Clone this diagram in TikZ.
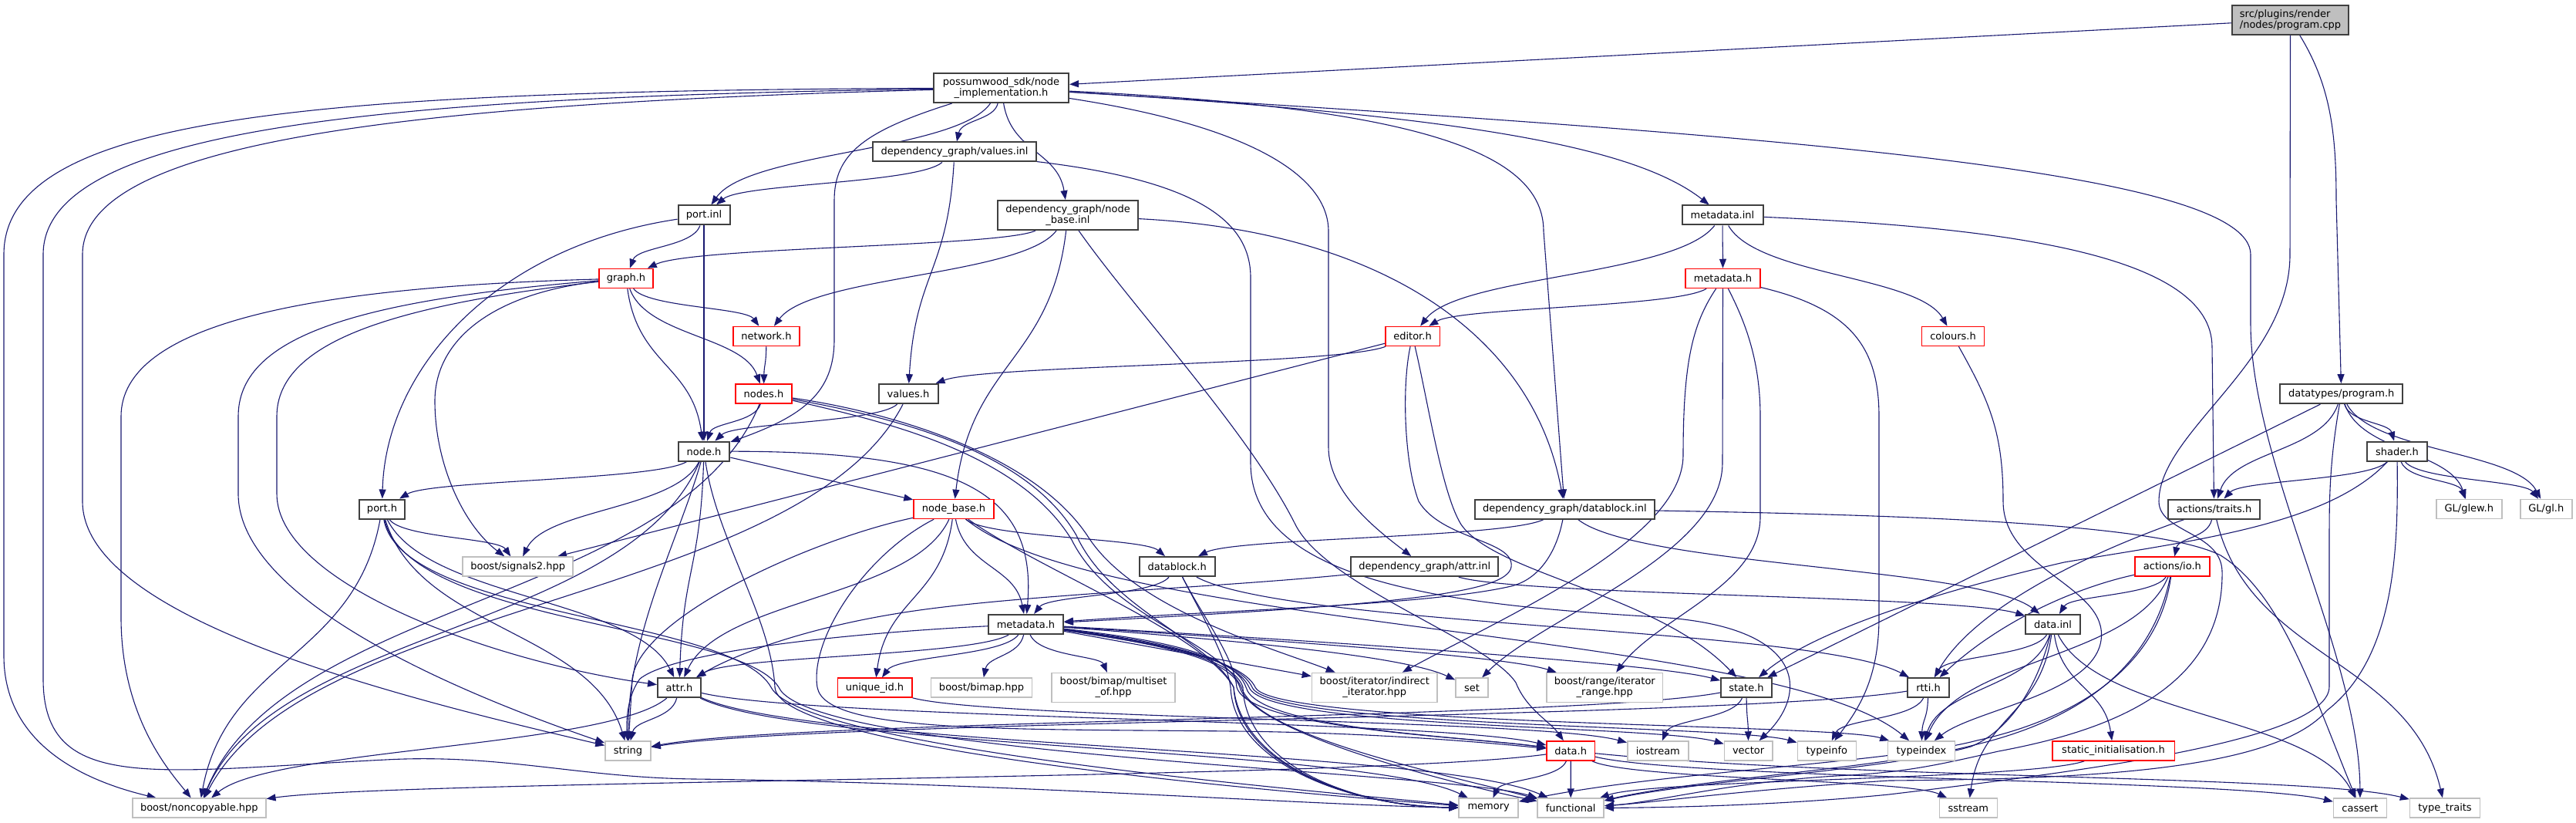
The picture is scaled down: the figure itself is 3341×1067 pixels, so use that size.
\documentclass[tikz,border=0pt]{standalone}
\usepackage{fontspec}
\setmainfont{DejaVu Sans}
\usetikzlibrary{arrows.meta,calc}
\definecolor{edgeblue}{RGB}{25,25,112}
\definecolor{extgray}{RGB}{191,191,191}
\definecolor{docline}{RGB}{64,64,64}
\newcommand\dfont{\fontsize{13}{14}\selectfont}
\pgfdeclarelayer{edgelayer}
\pgfsetlayers{edgelayer,main}
\tikzset{
  box/.style={rectangle, inner sep=0pt, minimum height=25pt, font=\dfont, fill=white, text=black},
  doc/.style={box, draw=docline, line width=2pt},
  ext/.style={box, draw=extgray, line width=1.5pt},
  redbox/.style={box, draw=red, line width=1.5pt},
  dep/.style={draw=edgeblue, line width=1.1pt, -{Triangle[length=12pt,width=9pt]}},
  two/.style={minimum height=38pt, align=center},
}
\newcommand\depe[3][]{%
  \path ($(#2)!0.5!(#3)$) coordinate (dm);
  \draw[dep,#1] (#2) .. controls ($(#2 |- dm)!0.3!(dm)$) and ($(#3 |- dm)!0.3!(dm)$) .. (#3);}
\begin{document}
\begin{tikzpicture}[x=1pt,y=-1pt]
\useasboundingbox (0,0) rectangle (3341,1067);
% ---------------- nodes ----------------
\node[doc,fill=extgray,two,align=left,minimum width=151pt] (root) at (2970.5,25.8) {src/plugins/render\\/nodes/program.cpp};
\node[doc,two,minimum width=175pt] (pw) at (1298.5,114) {possumwood\_sdk/node\\\_implementation.h};
\node[doc,minimum width=212pt] (valinl) at (1238,197) {dependency\_graph/values.inl};
\node[doc,minimum width=67pt] (portinl) at (913,279) {port.inl};
\node[doc,two,minimum width=182pt] (nbinl) at (1385,279) {dependency\_graph/node\\\_base.inl};
\node[doc,minimum width=105pt] (mdinl) at (2234,279) {metadata.inl};
\node[redbox,minimum width=70pt] (graph) at (812,361) {graph.h};
\node[redbox,minimum width=97pt] (mdhred) at (2234.5,361) {metadata.h};
\node[redbox,minimum width=86pt] (network) at (994,436) {network.h};
\node[redbox,minimum width=70.5pt] (editor) at (1832,436) {editor.h};
\node[redbox,minimum width=81pt] (colours) at (2533,436) {colours.h};
\node[redbox,minimum width=73pt] (nodes) at (990.5,510.6) {nodes.h};
\node[doc,minimum width=77pt] (values) at (1178,510.6) {values.h};
\node[doc,minimum width=158.6pt] (dtprog) at (3036.7,510.6) {datatypes/program.h};
\node[doc,minimum width=66.7pt] (nodeh) at (913,585.2) {node.h};
\node[doc,minimum width=77.3pt] (shader) at (3109,585.2) {shader.h};
\node[doc,minimum width=59.6pt] (porth) at (495.5,660) {port.h};
\node[redbox,minimum width=104pt] (nbh) at (1237,660) {node\_base.h};
\node[doc,minimum width=233pt] (dbinl) at (2029.4,660) {dependency\_graph/datablock.inl};
\node[doc,minimum width=119.3pt] (traits) at (2871.6,660) {actions/traits.h};
\node[ext,minimum width=85pt] (glew) at (3202.3,660) {GL/glew.h};
\node[ext,minimum width=67pt] (gl) at (3302.3,660) {GL/gl.h};
\node[ext,minimum width=143pt] (sig) at (671.7,734.6) {boost/signals2.hpp};
\node[doc,minimum width=98pt] (dbh) at (1526.7,734.6) {datablock.h};
\node[doc,minimum width=190.8pt] (attrinl) at (1847.7,734.6) {dependency\_graph/attr.inl};
\node[redbox,minimum width=97pt] (io) at (2817.4,734.6) {actions/io.h};
\node[doc,minimum width=97pt] (mdh) at (1330.5,809.4) {metadata.h};
\node[doc,minimum width=70.4pt] (datainl) at (2662.5,809.4) {data.inl};
\node[doc,minimum width=56pt] (attr) at (881,891.6) {attr.h};
\node[redbox,minimum width=96.5pt] (uid) at (1134.5,891.6) {unique\_id.h};
\node[ext,minimum width=130.6pt] (bimap) at (1273,891.6) {boost/bimap.hpp};
\node[ext,two,minimum width=160.4pt] (multiset) at (1444,891.4) {boost/bimap/multiset\\\_of.hpp};
\node[ext,two,minimum width=162.6pt] (indirect) at (1782.7,891.4) {boost/iterator/indirect\\\_iterator.hpp};
\node[ext,minimum width=42pt] (seth) at (1909,891.6) {set};
\node[ext,two,minimum width=150.7pt] (range) at (2081.3,891.4) {boost/range/iterator\\\_range.hpp};
\node[doc,minimum width=66pt] (stateh) at (2265,891.6) {state.h};
\node[doc,minimum width=53.4pt] (rtti) at (2501,891.6) {rtti.h};
\node[ext,minimum width=59pt] (stringh) at (814.5,973.5) {string};
\node[redbox,minimum width=62.4pt] (datah) at (2037.2,973.5) {data.h};
\node[ext,minimum width=79pt] (iostream) at (2150.3,973.5) {iostream};
\node[ext,minimum width=62.4pt] (vector) at (2267.6,973.5) {vector};
\node[ext,minimum width=76pt] (typeinfo) at (2369.3,973.5) {typeinfo};
\node[ext,minimum width=86.7pt] (typeindex) at (2492,973.5) {typeindex};
\node[redbox,minimum width=158.5pt] (staticinit) at (2741,973.5) {static\_initialisation.h};
\node[ext,minimum width=173pt] (noncopy) at (258.3,1047.7) {boost/noncopyable.hpp};
\node[ext,minimum width=77pt] (memory) at (1930.7,1047.7) {memory};
\node[ext,minimum width=86pt] (functional) at (2037.2,1047.7) {functional};
\node[ext,minimum width=75pt] (sstream) at (2552.8,1047.7) {sstream};
\node[ext,minimum width=68.8pt] (cassert) at (3061,1047.7) {cassert};
\node[ext,minimum width=91pt] (typetraits) at (3171,1047.7) {type\_traits};
% ---------------- edges ----------------
\begin{pgfonlayer}{edgelayer}
% root
\draw[dep] (root) -- (pw);
\draw[dep] (root) .. controls (3022,110) and (3030,170) .. (3030,260) -- (dtprog);
\draw[dep] (root) -- (2970,330) .. controls (2970,470) and (2800,560) .. (2800,650) .. controls (2800,690) and (2880,690) .. (2882,740) .. controls (2885,900) and (2720,950) .. (2592,974) .. controls (2520,990) and (2480,1000) .. (2400,1005) .. controls (2250,1012) and (2150,1040) .. (functional);
% pw
\depe{pw}{valinl}
\depe{pw}{portinl}
\depe{pw}{nbinl}
\draw[dep] (pw) .. controls (1900,150) and (2120,190) .. (mdinl);
\draw[dep] (pw) .. controls (1850,140) and (2002,200) .. (2002,300) -- (dbinl);
\draw[dep] (pw) .. controls (1600,160) and (1723,220) .. (1723,300) -- (1723,580) .. controls (1723,640) and (1790,690) .. (attrinl);
\draw[dep] (pw) .. controls (1120,170) and (1082,200) .. (1082,260) -- (1082,440) .. controls (1082,510) and (1040,540) .. (nodeh);
\draw[dep] (pw) .. controls (400,118) and (5,150) .. (5,330) -- (5,850) .. controls (5,960) and (100,1010) .. (noncopy);
\draw[dep] (pw) .. controls (500,126) and (56,165) .. (56,330) -- (56,880) .. controls (56,1030) and (200,1000) .. (500,985) .. controls (650,977) and (750,1008) .. (900,1010) .. controls (1300,1015) and (1700,1044) .. (memory);
\draw[dep] (pw) .. controls (550,134) and (107,180) .. (107,330) -- (107,650) .. controls (107,800) and (500,900) .. (stringh);
\draw[dep] (pw) .. controls (2300,175) and (2919,220) .. (2919,330) -- (2919,420) .. controls (2919,600) and (3060,850) .. (cassert);
% valinl
\depe{valinl}{portinl}
\depe{valinl}{values}
\draw[dep] (valinl) .. controls (1560,235) and (1622,290) .. (1622,360) -- (1622,600) .. controls (1622,760) and (1900,785) .. (2150,800) .. controls (2345,812) and (2345,900) .. (vector);
% portinl
\depe{portinl}{graph}
\depe{portinl}{nodeh}
\draw[dep] (portinl) .. controls (640,320) and (500,480) .. (porth);
% nbinl
\depe{nbinl}{graph}
\depe{nbinl}{network}
\depe{nbinl}{nbh}
\draw[dep] (nbinl) .. controls (1800,300) and (1990,440) .. (dbinl);
\draw[dep] (nbinl) .. controls (1470,400) and (1620,560) .. (1680,680) .. controls (1720,760) and (1930,830) .. (1966,885) .. controls (1980,920) and (2010,935) .. (datah);
% mdinl
\depe{mdinl}{editor}
\depe{mdinl}{mdhred}
\depe{mdinl}{colours}
\draw[dep] (mdinl) .. controls (2600,295) and (2869,330) .. (2869,450) -- (traits);
% graph
\depe{graph}{network}
\depe{graph}{nodes}
\depe{graph}{nodeh}
\draw[dep] (graph) .. controls (640,380) and (564,440) .. (564,520) .. controls (564,600) and (600,680) .. (sig);
\draw[dep] (graph) .. controls (400,372) and (157,420) .. (157,540) -- (157,800) .. controls (157,930) and (220,1000) .. (noncopy);
\draw[dep] (graph) .. controls (450,390) and (309,440) .. (309,540) -- (309,640) .. controls (309,780) and (600,900) .. (stringh);
\draw[dep] (graph) .. controls (520,395) and (359,440) .. (359,540) -- (359,640) .. controls (359,760) and (650,860) .. (attr);
% mdhred
\depe{mdhred}{editor}
\draw[dep] (mdhred) .. controls (2195,420) and (2183,470) .. (2183,590) .. controls (2183,700) and (1950,800) .. (indirect);
\draw[dep] (mdhred) -- (2234,600) .. controls (2234,720) and (2000,800) .. (seth);
\draw[dep] (mdhred) .. controls (2265,420) and (2283,470) .. (2283,540) -- (2283,670) .. controls (2283,760) and (2150,800) .. (range);
\draw[dep] (mdhred) .. controls (2400,400) and (2437,450) .. (2437,540) -- (2437,800) .. controls (2437,880) and (2410,920) .. (typeinfo);
% network
\depe{network}{nodes}
% editor
\depe{editor}{values}
\draw[dep] (editor) -- (sig);
\draw[dep] (editor) .. controls (1818,500) and (1821,600) .. (1840,650) .. controls (1870,700) and (1965,700) .. (1960,735) .. controls (1955,770) and (1800,785) .. (mdh);
\draw[dep] (editor) .. controls (1852,520) and (1870,640) .. (1895,680) .. controls (1940,745) and (2150,770) .. (stateh);
% colours
\draw[dep] (colours) .. controls (2580,520) and (2598,560) .. (2598,650) .. controls (2598,740) and (2735,760) .. (2725,830) .. controls (2715,900) and (2560,920) .. (typeindex);
% nodes
\depe{nodes}{nodeh}
\depe{nodes}{noncopy}
\draw[dep] (nodes) .. controls (1160,535) and (1340,590) .. (1410,694) .. controls (1470,790) and (1650,840) .. (indirect);
\draw[dep] (nodes) .. controls (1150,540) and (1330,580) .. (1396,694) .. controls (1440,790) and (1570,830) .. (1600,891) .. controls (1610,990) and (1750,1045) .. (memory);
\draw[dep] (nodes) .. controls (1140,545) and (1320,585) .. (1390,700) .. controls (1440,800) and (1580,830) .. (1610,891) .. controls (1630,955) and (1880,1005) .. (functional);
% values
\depe{values}{nodeh}
\depe{values}{noncopy}
% dtprog
\depe{dtprog}{traits}
\depe{dtprog}{shader}
\depe{dtprog}{glew}
\depe{dtprog}{gl}
\draw[dep] (dtprog) -- (stateh);
\draw[dep] (dtprog) .. controls (3021,600) and (3021,650) .. (3021,700) -- (3021,890) .. controls (3021,960) and (2700,1000) .. (2450,1030) .. controls (2300,1045) and (2150,1047) .. (functional);
% shader
\depe{shader}{traits}
\depe{shader}{glew}
\depe{shader}{gl}
\draw[dep] (shader) .. controls (3020,680) and (2850,700) .. (2677,729) .. controls (2500,770) and (2350,820) .. (stateh);
\draw[dep] (shader) .. controls (3110,700) and (3110,850) .. (3018,921) .. controls (2950,1000) and (2700,1010) .. (2450,1012) .. controls (2250,1025) and (2150,1040) .. (functional);
% nodeh
\depe{nodeh}{porth}
\depe{nodeh}{sig}
\draw[dep] (nodeh) -- (nbh);
\draw[dep] (nodeh) .. controls (1250,585) and (1345,640) .. (mdh);
\depe{nodeh}{attr}
\depe{nodeh}{noncopy}
\draw[dep] (nodeh) .. controls (930,700) and (1000,800) .. (1005,891) .. controls (1010,975) and (1700,1030) .. (memory);
\draw[dep] (nodeh) .. controls (880,700) and (815,820) .. (stringh);
% porth
\depe{porth}{sig}
\depe{porth}{noncopy}
\depe{porth}{attr}
\depe{porth}{stringh}
\draw[dep] (porth) .. controls (520,800) and (950,800) .. (1000,891) .. controls (1040,970) and (1700,1025) .. (memory);
\draw[dep] (porth) .. controls (530,810) and (960,810) .. (1010,891) .. controls (1050,980) and (1880,1000) .. (functional);
% nbh
\depe{nbh}{dbh}
\depe{nbh}{mdh}
\depe{nbh}{uid}
\depe{nbh}{attr}
\draw[dep] (nbh) .. controls (1050,700) and (830,800) .. (820,880) -- (stringh);
\draw[dep] (nbh) .. controls (1120,720) and (1050,830) .. (1060,891) .. controls (1070,950) and (1300,945) .. (1600,948) .. controls (1800,950) and (1950,965) .. (datah);
\draw[dep] (nbh) .. controls (1350,740) and (1560,820) .. (1600,891) .. controls (1605,990) and (1750,1045) .. (memory);
\depe{nbh}{typeindex}
% dbinl
\depe{dbinl}{dbh}
\draw[dep] (dbinl) .. controls (2020,710) and (2000,750) .. (1960,760) .. controls (1850,785) and (1600,790) .. (mdh);
\depe{dbinl}{datainl}
\draw[dep] (dbinl) .. controls (2500,668) and (2800,680) .. (2880,720) .. controls (2960,770) and (3000,900) .. (cassert);
% traits
\depe{traits}{io}
\draw[dep] (traits) .. controls (2700,720) and (2560,790) .. (rtti);
\depe{traits}{typetraits}
% dbh
\depe{dbh}{mdh}
\draw[dep] (dbh) .. controls (1560,800) and (1600,850) .. (1604,891) .. controls (1620,945) and (1900,955) .. (datah);
\depe{dbh}{rtti}
\draw[dep] (dbh) .. controls (1560,800) and (1590,850) .. (1596,891) .. controls (1600,990) and (1750,1045) .. (memory);
% attrinl
\draw[dep] (attrinl) .. controls (1600,760) and (1350,770) .. (1200,790) .. controls (1050,810) and (950,850) .. (attr);
\depe{attrinl}{datainl}
% io
\depe{io}{datainl}
\draw[dep] (io) .. controls (2700,760) and (2600,800) .. (rtti);
\depe{io}{typeindex}
\draw[dep] (io) .. controls (2800,860) and (2700,930) .. (2564,960) .. controls (2450,990) and (2150,1000) .. (memory);
\draw[dep] (io) .. controls (2790,870) and (2690,935) .. (2560,966) .. controls (2450,995) and (2200,1010) .. (functional);
% mdh
\depe{mdh}{attr}
\depe{mdh}{uid}
\depe{mdh}{bimap}
\depe{mdh}{multiset}
\draw[dep] (mdh) -- (indirect);
\draw[dep] (mdh) .. controls (1600,830) and (1820,850) .. (seth);
\draw[dep] (mdh) .. controls (1650,830) and (1950,850) .. (range);
\draw[dep] (mdh) .. controls (1700,830) and (2150,860) .. (stateh);
\draw[dep] (mdh) .. controls (1150,818) and (880,840) .. (830,880) .. controls (815,900) and (812,930) .. (stringh);
\draw[dep] (mdh) .. controls (1490,828) and (1600,845) .. (1616,891) .. controls (1630,945) and (1900,955) .. (datah);
\draw[dep] (mdh) .. controls (1490,830) and (1600,848) .. (1620,891) .. controls (1640,945) and (2150,940) .. (vector);
\draw[dep] (mdh) .. controls (1490,832) and (1605,850) .. (1624,891) .. controls (1645,943) and (2250,940) .. (typeinfo);
\draw[dep] (mdh) .. controls (1490,834) and (1610,852) .. (1628,891) .. controls (1650,941) and (2380,938) .. (typeindex);
\draw[dep] (mdh) .. controls (1480,832) and (1595,850) .. (1608,891) .. controls (1625,950) and (1880,1015) .. (functional);
\draw[dep] (mdh) .. controls (1480,830) and (1600,850) .. (1612,891) .. controls (1615,990) and (1750,1045) .. (memory);
% datainl
\depe{datainl}{rtti}
\depe{datainl}{typeindex}
\depe{datainl}{staticinit}
\depe{datainl}{cassert}
\depe{datainl}{sstream}
\draw[dep] (datainl) .. controls (2640,900) and (2600,950) .. (2556,968) .. controls (2450,998) and (2200,1012) .. (functional);
% attr
\depe{attr}{stringh}
\depe{attr}{datah}
\depe{attr}{memory}
\depe{attr}{functional}
\depe{attr}{noncopy}
% uid
\depe{uid}{iostream}
% stateh
\depe{stateh}{vector}
\depe{stateh}{iostream}
\depe{stateh}{stringh}
% rtti
\depe{rtti}{typeindex}
\depe{rtti}{typeinfo}
\depe{rtti}{stringh}
% datah
\depe{datah}{memory}
\depe{datah}{functional}
\depe{datah}{noncopy}
\depe{datah}{sstream}
\depe{datah}{cassert}
\draw[dep] (datah) .. controls (2400,1010) and (3000,1005) .. (typetraits);
% staticinit
\depe{staticinit}{functional}
\end{pgfonlayer}
\end{tikzpicture}
\end{document}
